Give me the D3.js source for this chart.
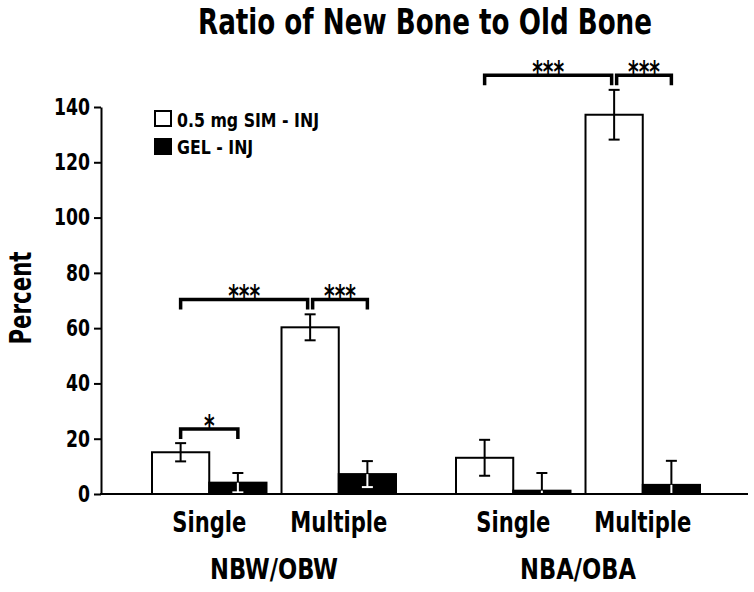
<!DOCTYPE html>
<html>
<head>
<meta charset="utf-8">
<script src="https://cdn.jsdelivr.net/npm/d3@7"></script>
<style>
  html, body { margin: 0; padding: 0; background: #fff; }
  svg { display: block; }
  text { font-family: "DejaVu Sans Condensed", "DejaVu Sans", sans-serif; font-stretch: condensed; font-weight: bold; fill: #000; }
</style>
</head>
<body>
<svg id="chart" width="754" height="592"></svg>
<script>
// ---- Data ----
const groups = ["NBW/OBW", "NBA/OBA"];
const conditions = ["Single", "Multiple"];
const series = ["0.5 mg SIM - INJ", "GEL - INJ"];
// mean values [group][condition] per series
const simMeans = [[15.1, 60.3], [13.1, 137.2]];
const simErrors = [[3.3, 4.7], [6.5, 9.0]];
const gelMeans = [[4.1, 7.2], [1.2, 3.3]];
const gelErrors = [[3.5, 4.7], [6.4, 8.7]];
const yTicks = [0, 20, 40, 60, 80, 100, 120, 140];
// significance brackets: group, [cond, series] from / to, height, label
const sigGroups = ["NBW/OBW", "NBW/OBW", "NBW/OBW", "NBA/OBA", "NBA/OBA"];
const sigFrom = [["Single", 0], ["Single", 0], ["Multiple", 0], ["Single", 0], ["Multiple", 0]];
const sigTo = [["Single", 1], ["Multiple", 0], ["Multiple", 1], ["Multiple", 0], ["Multiple", 1]];
const sigHeights = [23.5, 70.4, 70.4, 151.5, 151.5];
const sigLabels = ["*", "***", "***", "***", "***"];

// ---- Build ----
const svg = d3.select("#chart");
const colors = ["#ffffff", "#000000"];

// compress text horizontally: factor derived from a reference width of one sample
function condense(sel, sampleNode, targetWidth) {
  const f = targetWidth / sampleNode.getComputedTextLength();
  sel.each(function () {
    const w = this.getComputedTextLength();
    d3.select(this).attr("textLength", w * f).attr("lengthAdjust", "spacingAndGlyphs");
  });
}

const y = d3.scaleLinear().domain([0, 140]).range([494, 107]);
const x0 = d3.scaleBand().domain(groups).range([122, 730]).padding(0);
const x1 = d3.scaleBand().domain(conditions).range([30, 274]).paddingInner(0.116).paddingOuter(0);
const x2 = d3.scaleBand().domain([0, 1]).range([0, x1.bandwidth()]).padding(0);

const rows = [];
groups.forEach((g, gi) => conditions.forEach((c, ci) => {
  rows.push({g, c, s: 0, mean: simMeans[gi][ci], err: simErrors[gi][ci]});
  rows.push({g, c, s: 1, mean: gelMeans[gi][ci], err: gelErrors[gi][ci]});
}));
const barX = d => x0(d.g) + x1(d.c) + x2(d.s);
const barC = (g, c, s) => x0(g) + x1(c) + x2(s) + x2.bandwidth() / 2;

// Title
const title = svg.append("text").attr("x", 425).attr("y", 34).attr("text-anchor", "middle")
  .attr("font-size", 35).text("Ratio of New Bone to Old Bone");
condense(title, title.node(), 454);

// Bars
svg.append("g").selectAll("rect").data(rows).join("rect")
  .attr("x", barX).attr("y", d => y(d.mean))
  .attr("width", x2.bandwidth()).attr("height", d => y(0) - y(d.mean))
  .attr("fill", d => colors[d.s]).attr("stroke", "#000").attr("stroke-width", 2);

// Error bars
const cap = 5.5;
const eb = svg.append("g").attr("stroke-width", 2);
rows.forEach(d => {
  const cx = barX(d) + x2.bandwidth() / 2;
  const top = y(d.mean + d.err);
  const lowV = d.mean - d.err;
  const low = y(Math.max(lowV, 0));
  const inside = d.s === 0 ? "#000" : "#fff";
  eb.append("line").attr("x1", cx).attr("x2", cx).attr("y1", top).attr("y2", y(d.mean)).attr("stroke", "#000");
  eb.append("line").attr("x1", cx - cap).attr("x2", cx + cap).attr("y1", top).attr("y2", top).attr("stroke", "#000");
  eb.append("line").attr("x1", cx).attr("x2", cx).attr("y1", y(d.mean)).attr("y2", low - (lowV > 0 ? 0 : 1)).attr("stroke", inside);
  if (lowV > 0) {
    eb.append("line").attr("x1", cx - cap).attr("x2", cx + cap).attr("y1", low).attr("y2", low).attr("stroke", inside);
  }
});

// Axes
const yAxis = d3.axisLeft(y).tickValues(yTicks).tickSize(7).tickPadding(4).tickSizeOuter(0);
const yg = svg.append("g").attr("transform", "translate(101,0)").call(yAxis);
yg.select(".domain").attr("stroke-width", 2);
yg.selectAll(".tick line").attr("stroke-width", 2);
const tickTexts = yg.selectAll(".tick text").attr("font-size", 23).attr("font-family", null);
condense(tickTexts, tickTexts.filter(d => d === 80).node(), 24);

svg.append("line").attr("x1", 100).attr("x2", 748).attr("y1", y(0)).attr("y2", y(0))
  .attr("stroke", "#000").attr("stroke-width", 2);

// X labels
const catLabels = svg.append("g");
groups.forEach(g => conditions.forEach(c => {
  catLabels.append("text").attr("x", x0(g) + x1(c) + x1.bandwidth() / 2).attr("y", 532)
    .attr("text-anchor", "middle").attr("font-size", 27.5).text(c);
}));
condense(catLabels.selectAll("text"), catLabels.select("text").node(), 74);
const grpLabels = svg.append("g");
groups.forEach(g => {
  grpLabels.append("text").attr("x", x0(g) + x0.bandwidth() / 2).attr("y", 579)
    .attr("text-anchor", "middle").attr("font-size", 29).text(g);
});
condense(grpLabels.selectAll("text"), grpLabels.select("text").node(), 128);

// Y label
const ylab = svg.append("text").attr("transform", "translate(31,298) rotate(-90)")
  .attr("text-anchor", "middle").attr("font-size", 30).text("Percent");
condense(ylab, ylab.node(), 93);

// Legend
const lg = svg.append("g");
series.forEach((s, i) => {
  lg.append("rect").attr("x", 155).attr("y", 111 + i * 28).attr("width", 16).attr("height", 15)
    .attr("fill", colors[i]).attr("stroke", "#000").attr("stroke-width", 2);
  lg.append("text").attr("x", 177).attr("y", 127 + i * 27).attr("font-size", 20).text(s);
});
condense(lg.selectAll("text"), lg.select("text").node(), 142);

// Significance brackets
const sg = svg.append("g");
sigLabels.forEach((lab, i) => {
  const g = sigGroups[i];
  let xa = barC(g, sigFrom[i][0], sigFrom[i][1]);
  let xb = barC(g, sigTo[i][0], sigTo[i][1]);
  // nudge ends where two brackets share a bar
  sigLabels.forEach((l2, j) => {
    if (j === i || sigGroups[j] !== g || sigHeights[j] !== sigHeights[i]) return;
    const ja = barC(g, sigFrom[j][0], sigFrom[j][1]);
    const jb = barC(g, sigTo[j][0], sigTo[j][1]);
    if (Math.abs(xb - ja) < 1) xb -= 2.5;
    if (Math.abs(xa - jb) < 1) xa += 2.5;
  });
  const yy = y(sigHeights[i]);
  sg.append("path")
    .attr("d", `M${xa},${yy + 10}V${yy}H${xb}V${yy + 10}`)
    .attr("fill", "none").attr("stroke", "#000").attr("stroke-width", 3.5).attr("stroke-linejoin", "miter");
  sg.append("text").attr("class", "star").attr("x", (xa + xb) / 2).attr("y", yy + 7)
    .attr("text-anchor", "middle").attr("font-size", 30).text(lab);
});
const stars = sg.selectAll("text.star");
condense(stars, stars.filter(function () { return this.textContent === "***"; }).node(), 32);
</script>
</body>
</html>
